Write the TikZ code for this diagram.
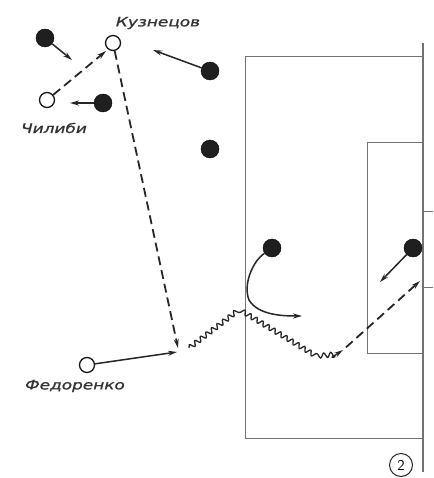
\documentclass[tikz,border=0pt]{standalone}
\usepackage{fontspec}
\newfontfamily\lab[FakeStretch=1.3,FakeBold=1.2]{DejaVu Sans}
\usetikzlibrary{arrows.meta,decorations.pathmorphing}
\begin{document}
\begin{tikzpicture}[x=1pt,y=-1pt,
  field/.style={draw=black!55,line width=1pt},
  dot/.style={circle,fill=black!88,draw=black,inner sep=0pt,minimum size=18pt},
  opn/.style={circle,fill=white,draw=black!90,line width=1.3pt,inner sep=0pt,minimum size=15pt},
  mv/.style={draw=black!85,line width=1.5pt,-{Stealth[length=9pt,width=5pt]}},
  pass/.style={mv,line width=1.8pt,dash pattern=on 9pt off 5pt},
  dribble/.style={draw=black!85,line width=1.3pt,decorate,decoration={snake,amplitude=2.4pt,segment length=7pt}},
  lbl/.style={font=\lab\itshape\fontsize{13}{13}\selectfont,text=black!80,inner sep=0pt}]
\useasboundingbox (0,0) rectangle (433,478);
% field
\draw[field] (245,438) -- (245,57) -- (423,57);
\draw[field] (245,438) -- (423,438);
\draw[field] (367,353) -- (367,143) -- (423,143);
\draw[field] (367,353) -- (423,353);
\draw[field,line width=1.2pt] (423,43) -- (423,472);
\draw[field] (423,211) -- (433,211);
\draw[field] (423,287) -- (433,287);
\node[circle,draw=black!85,line width=1pt,inner sep=0pt,minimum size=23pt,font=\sffamily\fontsize{15}{15}\selectfont] (n2) at (401,465) {2};
% players
\node[opn] (K) at (113,43) {};
\node[opn] (C) at (47,100) {};
\node[opn] (F) at (87,365) {};
\node[lbl] (Kl) at (158,23) {Кузнецов};
\node[lbl] (Cl) at (54,128) {Чилиби};
\node[lbl] (Fl) at (75,386) {Федоренко};
\node[dot] (d1) at (45,38) {};
\node[dot] (d2) at (210,71) {};
\node[dot] (d3) at (103,103) {};
\node[dot] (d4) at (210,149) {};
\node[dot] (d5) at (272,248) {};
\node[dot] (d6) at (413,248) {};
% targets
\coordinate (t1) at (72,60);
\coordinate (t2) at (153,50);
\coordinate (t3) at (70,103);
\coordinate (t6) at (380,282);
\coordinate (t5) at (302,316);
\coordinate (pk) at (106,51);
\coordinate (pf) at (178,348);
\coordinate (fa) at (177,352);
\coordinate (w0) at (189,348);
\coordinate (w1) at (236,312);
\coordinate (w2) at (312,358);
\coordinate (w3) at (334,356);
\coordinate (w4) at (343,350);
\coordinate (g) at (420,281);
% arrows
\draw[mv] (d1) -- (t1);
\draw[mv] (d2) -- (t2);
\draw[mv] (d3) -- (t3);
\draw[mv] (d6) -- (t6);
\draw[mv] (d5) .. controls (252,262) and (243,285) .. (249,300) .. controls (258,315) and (282,316) .. (t5);
\draw[pass] (C) -- (pk);
\draw[pass] (K) -- (pf);
\draw[mv] (F) -- (fa);
\draw[dribble] (w0) -- (w1) -- (w2) -- (w3);
\draw[mv] (w3) -- (w4);
\draw[pass,shorten <=4pt] (w4) -- (g);
\end{tikzpicture}
\end{document}
